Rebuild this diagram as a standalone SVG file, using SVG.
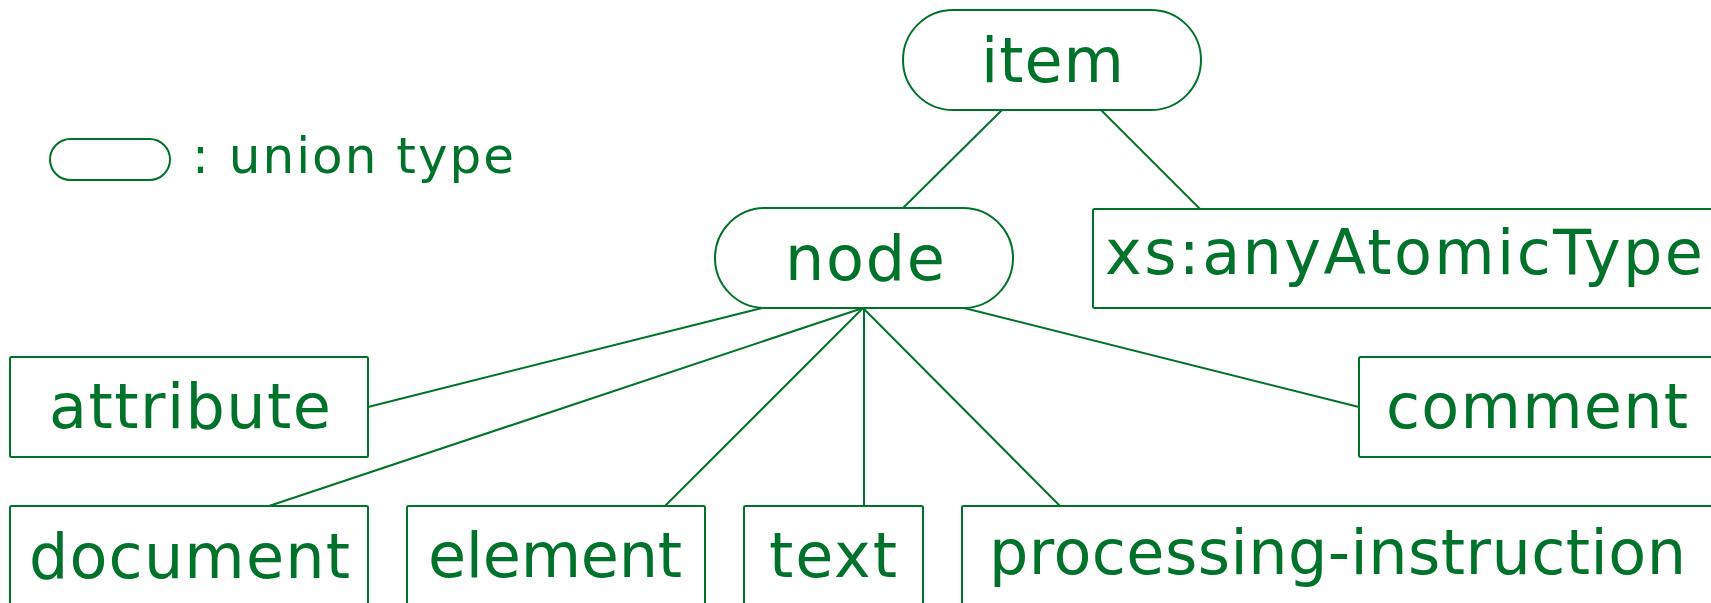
<svg xmlns="http://www.w3.org/2000/svg" width="1711" height="603" viewBox="0 0 1711 603">
<style>
.box{fill:#fff;stroke:#007229;stroke-width:2}
.ln{stroke:#007229;stroke-width:2;fill:none}
.t{font-family:"DejaVu Sans",sans-serif;font-size:62px;fill:#007229}
.lg{font-family:"DejaVu Sans",sans-serif;font-size:50px;fill:#007229}
</style>
<rect width="1711" height="603" fill="#fff"/>
<g id="connectors">
<line class="ln" x1="1002" y1="110" x2="903" y2="208"/>
<line class="ln" x1="1101" y1="110" x2="1200" y2="209"/>
<line class="ln" x1="762" y1="308" x2="368" y2="407"/>
<line class="ln" x1="863" y1="308" x2="269" y2="506"/>
<line class="ln" x1="863" y1="308" x2="665" y2="506"/>
<line class="ln" x1="864" y1="308" x2="864" y2="506"/>
<line class="ln" x1="863" y1="308" x2="1060" y2="506"/>
<line class="ln" x1="964" y1="308" x2="1359" y2="407"/>
</g>
<g id="legend">
<rect class="box" x="50" y="139" width="120" height="41" rx="20.5"/>
<text class="lg" x="192" y="173" textLength="322" lengthAdjust="spacing">: union type</text>
</g>
<g id="item">
<rect class="box" x="903" y="10" width="298" height="100" rx="50"/>
<text class="t" x="981" y="82" textLength="143" lengthAdjust="spacing">item</text>
</g>
<g id="node">
<rect class="box" x="715" y="208" width="298" height="100" rx="50"/>
<text class="t" x="785" y="280" textLength="160" lengthAdjust="spacing">node</text>
</g>
<g id="xs-anyAtomicType">
<rect class="box" x="1093" y="209" width="630" height="99" rx="1.5"/>
<text class="t" x="1105" y="274" textLength="598" lengthAdjust="spacing">xs:anyAtomicType</text>
</g>
<g id="attribute">
<rect class="box" x="10" y="357" width="358" height="100" rx="1.5"/>
<text class="t" x="49" y="428" textLength="282" lengthAdjust="spacing">attribute</text>
</g>
<g id="comment">
<rect class="box" x="1359" y="357" width="370" height="100" rx="1.5"/>
<text class="t" x="1386" y="428" textLength="302" lengthAdjust="spacing">comment</text>
</g>
<g id="document">
<rect class="box" x="10" y="506" width="358" height="110" rx="1.5"/>
<text class="t" x="29" y="578" textLength="321" lengthAdjust="spacing">document</text>
</g>
<g id="element">
<rect class="box" x="407" y="506" width="298" height="110" rx="1.5"/>
<text class="t" x="428" y="577" textLength="254" lengthAdjust="spacing">element</text>
</g>
<g id="text">
<rect class="box" x="744" y="506" width="179" height="110" rx="1.5"/>
<text class="t" x="769" y="577" textLength="128" lengthAdjust="spacing">text</text>
</g>
<g id="processing-instruction">
<rect class="box" x="962" y="506" width="770" height="110" rx="1.5"/>
<text class="t" x="989" y="574" textLength="697" lengthAdjust="spacing">processing-instruction</text>
</g>
</svg>
